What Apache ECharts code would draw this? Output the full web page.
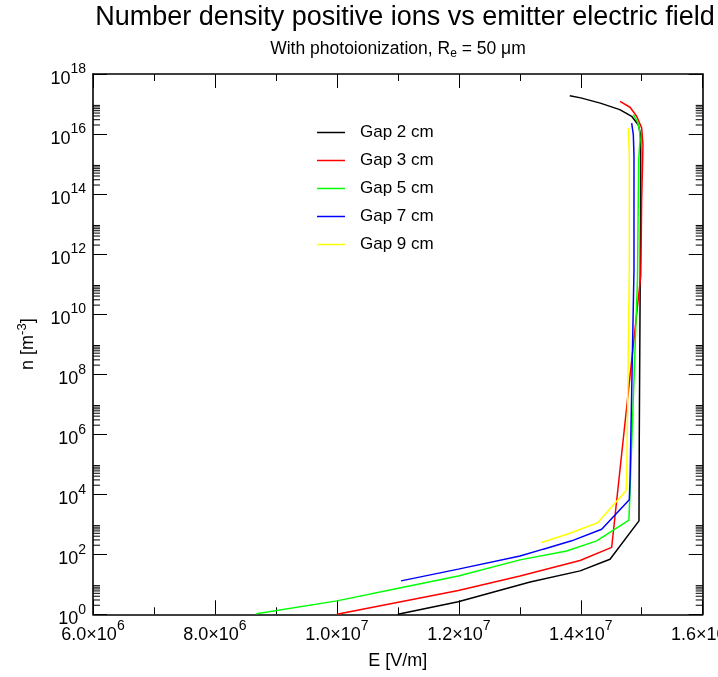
<!DOCTYPE html>
<html><head><meta charset="utf-8">
<script src="https://cdn.jsdelivr.net/npm/echarts@6/dist/echarts.min.js"></script>
<style>html,body{margin:0;padding:0;background:#fff}#c{width:718px;height:677px}</style>
</head><body><div id="c"></div>
<script>
// ---- data ----
const seriesNames = ['Gap 2 cm','Gap 3 cm','Gap 5 cm','Gap 7 cm','Gap 9 cm'];
const seriesColors = ['#000000','#ff0000','#00ff00','#0000ff','#ffff00'];
const gap2E = [1.382e7,1.400e7,1.432e7,1.464e7,1.4835e7,1.4944e7,1.4983e7,1.4983e7,1.4960e7,1.4955e7,1.448e7,1.399e7,1.317e7,1.199e7,1.100e7];
const gap2N = [1.9e17,1.6e17,1.07e17,6.5e16,3.9e16,2.0e16,9.5e15,1e14,1e6,1.3e3,68,28,12,2.6,1.0];
const gap3E = [1.4644e7,1.4808e7,1.4917e7,1.4999e7,1.5020e7,1.5015e7,1.4999e7,1.4985e7,1.4507e7,1.3988e7,1.3004e7,1.1992e7,1.1008e7,1.0e7];
const gap3N = [1.23e17,7.8e16,3.9e16,1.6e16,4.4e15,1.4e15,6.5e13,2e11,170,62,19,6.2,2.5,1.0];
const gap5E = [1.4862e7,1.4929e7,1.4963e7,1.4972e7,1.4950e7,1.4930e7,1.4816e7,1.4790e7,1.4261e7,1.3769e7,1.3004e7,1.1992e7,1.1008e7,1.0e7,8.68e6];
const gap5N = [4.4e16,2.6e16,1.4e16,6.5e15,1.4e15,1.4e11,3.5e4,1380,280,129,65,19,7.4,2.8,1.05];
const gap7E = [1.4835e7,1.4862e7,1.4873e7,1.4873e7,1.4808e7,1.4796e7,1.4343e7,1.3851e7,1.3386e7,1.3004e7,1.1992e7,1.1052e7];
const gap7N = [2.3e16,9.5e15,2.0e15,3.0e11,3.0e4,6500,680,280,148,87,32,13];
const gap9E = [1.4780e7,1.4796e7,1.4796e7,1.4753e7,1.4742e7,1.4277e7,1.3823e7,1.3359e7];
const gap9N = [1.6e16,2.0e15,3.0e11,3.0e4,1.3e4,1120,500,245];
const xTicks = {min:6e6, max:1.6e7, interval:2e6};
const yTicks = {min:1, max:1e18, interval:2};
// ---- build ----
const allE = [gap2E,gap3E,gap5E,gap7E,gap9E];
const allN = [gap2N,gap3N,gap5N,gap7N,gap9N];
const FONT = 'Liberation Sans';
function xLab(v){
  const e = Math.floor(Math.log10(v)+1e-9);
  const m = v/Math.pow(10,e);
  return '{b|'+m.toFixed(1)+'\u00d710}{s|'+e+'}';
}
function yLab(v){
  const e = Math.round(Math.log10(v));
  return '{b|10}{s|'+e+'}';
}
const labRich = {
  b:{fontSize:18, fontFamily:FONT, color:'#000', padding:[10,0,0,0]},
  s:{fontSize:14, fontFamily:FONT, color:'#000', padding:[0,0,9,0]}
};
// minor log ticks (axis decoration): 2..9 x 10^even
const minorY = [];
for (let e=0;e<18;e+=2){ for(let k=2;k<=9;k++){ minorY.push([6e6, k*Math.pow(10,e)]); } }

const chart = echarts.init(document.getElementById('c'), null, {renderer:'canvas'});
const axisLine = {show:true, lineStyle:{color:'#000', width:1.6}};
const series = seriesNames.map((name,i)=>({
  name, type:'line', xAxisIndex:0, yAxisIndex:0,
  data: allE[i].map((e,j)=>[e, allN[i][j]]),
  showSymbol:false, symbol:'none', smooth:false,
  lineStyle:{color:seriesColors[i], width:1.5},
  itemStyle:{color:seriesColors[i]},
  clip:true, z:3
}));
series.push({
  type:'custom', xAxisIndex:0, yAxisIndex:0, silent:true, data:minorY,
  renderItem:function(params, api){
    const v = api.value(1);
    const pl = api.coord([xTicks.min, v]);
    const pr = api.coord([xTicks.max, v]);
    const st = {stroke:'#000', lineWidth:1};
    return {type:'group', children:[
      {type:'line', shape:{x1:pl[0], y1:pl[1], x2:pl[0]+7, y2:pl[1]}, style:st},
      {type:'line', shape:{x1:pr[0], y1:pr[1], x2:pr[0]-7, y2:pr[1]}, style:st}
    ]};
  }, z:2
});
const option = {
  backgroundColor:'#fff',
  animation:false,
  textStyle:{fontFamily:FONT},
  title:[{
    left:405, top:4, textAlign:'center', padding:0,
    text:'Number density positive ions vs emitter electric field',
    textStyle:{fontFamily:FONT, fontSize:27, fontWeight:'normal', color:'#000'}
  },{
    left:398, top:38, textAlign:'center', padding:0,
    text:'With photoionization, R{sub|e} = 50 \u03bcm',
    textStyle:{fontFamily:FONT, fontSize:17.5, fontWeight:'normal', color:'#000',
      rich:{sub:{fontSize:12, fontFamily:FONT, color:'#000', padding:[10,0,0,0]}}}
  }],
  legend:{
    data:seriesNames, orient:'vertical', left:317, top:124, padding:0,
    icon:'rect', itemWidth:28, itemHeight:1.5, itemGap:11,
    textStyle:{fontFamily:FONT, fontSize:17, color:'#000', padding:[0,0,0,10]},
    selectedMode:false
  },
  grid:{left:93, right:15.3, top:74, bottom:62.7, containLabel:false, outerBoundsMode:'none'},
  xAxis:[{
    type:'value', position:'bottom', min:xTicks.min, max:xTicks.max, interval:xTicks.interval,
    axisLine, splitLine:{show:false},
    axisTick:{show:true, inside:true, length:14, lineStyle:{color:'#000', width:1}},
    minorTick:{show:true, splitNumber:2, length:7, lineStyle:{color:'#000', width:1}},
    axisLabel:{formatter:xLab, color:'#000', fontFamily:FONT, margin:2, rich:labRich, hideOverlap:false},
    name:'E [V/m]', nameLocation:'middle', nameGap:38,
    nameTextStyle:{fontSize:18, color:'#000', fontFamily:FONT}
  },{
    type:'value', position:'top', min:xTicks.min, max:xTicks.max, interval:xTicks.interval,
    axisLine, splitLine:{show:false}, axisLabel:{show:false},
    axisTick:{show:true, inside:true, length:14, lineStyle:{color:'#000', width:1}},
    minorTick:{show:true, splitNumber:2, length:7, lineStyle:{color:'#000', width:1}}
  }],
  yAxis:[{
    type:'log', logBase:10, position:'left', min:yTicks.min, max:yTicks.max, interval:yTicks.interval,
    axisLine, splitLine:{show:false},
    axisTick:{show:true, inside:true, length:14, lineStyle:{color:'#000', width:1}},
    axisLabel:{formatter:yLab, color:'#000', fontFamily:FONT, margin:7, rich:labRich},
    name:'n [m{s|-3}]', nameLocation:'middle', nameGap:52, nameRotate:90,
    nameTextStyle:{fontSize:18, color:'#000', fontFamily:FONT,
      rich:{s:{fontSize:13, fontFamily:FONT, color:'#000', padding:[0,0,12,0]}}}
  },{
    type:'log', logBase:10, position:'right', min:yTicks.min, max:yTicks.max, interval:yTicks.interval,
    axisLine, splitLine:{show:false}, axisLabel:{show:false},
    axisTick:{show:true, inside:true, length:14, lineStyle:{color:'#000', width:1}}
  }],
  series
};
chart.setOption(option);
</script></body></html>
